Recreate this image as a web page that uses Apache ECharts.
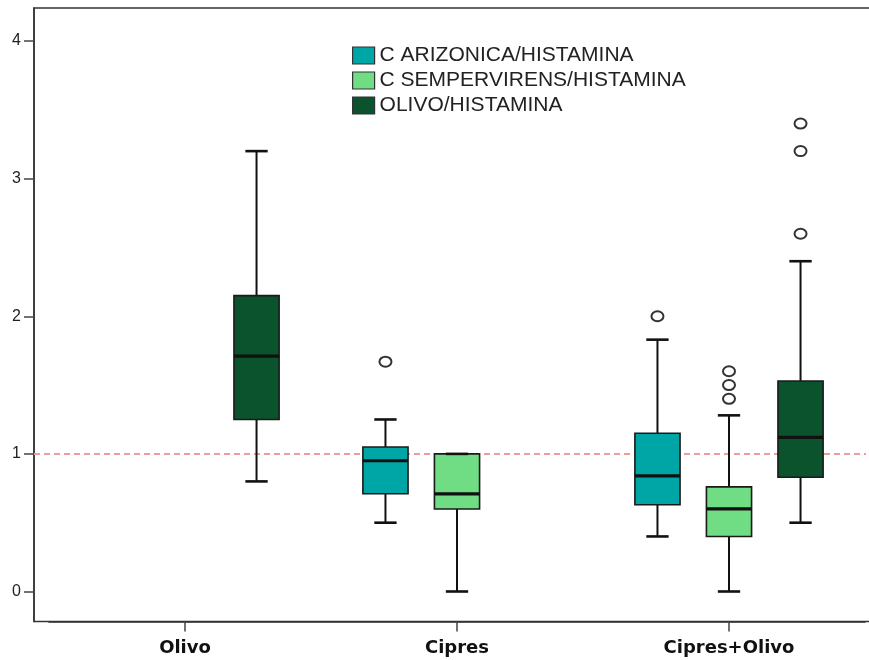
<!DOCTYPE html>
<html>
<head>
<meta charset="utf-8">
<script src="https://cdn.jsdelivr.net/npm/echarts@6/dist/echarts.min.js"></script>
<style>
html,body{margin:0;padding:0;background:#fff;}
#chart{width:869px;height:660px;}
</style>
</head>
<body>
<div id="chart"></div>
<script>
// ---- data ----
const categories = ['Olivo', 'Cipres', 'Cipres+Olivo'];
const seriesNames = ['C ARIZONICA/HISTAMINA', 'C SEMPERVIRENS/HISTAMINA', 'OLIVO/HISTAMINA'];
// [min, Q1, median, Q3, max] per category (null = no box)
const arizonicaBoxes = [null, [0.50, 0.71, 0.95, 1.05, 1.25], [0.40, 0.63, 0.84, 1.15, 1.83]];
const sempervirensBoxes = [null, [0.00, 0.60, 0.71, 1.00, 1.00], [0.00, 0.40, 0.60, 0.76, 1.28]];
const olivoBoxes = [[0.80, 1.25, 1.71, 2.15, 3.20], null, [0.50, 0.83, 1.12, 1.53, 2.40]];
// outliers: [category index, value]
const arizonicaOutliers = [[1, 1.67], [2, 2.00]];
const sempervirensOutliers = [[2, 1.60], [2, 1.50], [2, 1.40]];
const olivoOutliers = [[2, 3.40], [2, 3.20], [2, 2.60]];
const yTicks = [0, 1, 2, 3, 4];
const referenceValue = 1;

const colors = ['#00a5a5', '#70dc83', '#0b532d'];
const SLOT = 0.263;      // slot spacing as fraction of category band
const BOX_HALF = 0.083;  // half box width as fraction of band
const CAP_HALF = 0.041;  // half whisker cap width

function boxData(arr) {
  const out = [];
  arr.forEach((b, i) => { if (b) out.push([i].concat(b)); });
  return out;
}

function boxRenderer(slot, color) {
  return function (params, api) {
    const c = api.value(0);
    const band = api.size([1, 0])[0];
    const cx = api.coord([c, 0])[0] + (slot - 1) * band * SLOT;
    const y = v => api.coord([c, v])[1];
    const yMin = y(api.value(1)), yQ1 = y(api.value(2)), yMed = y(api.value(3)),
          yQ3 = y(api.value(4)), yMax = y(api.value(5));
    const hw = band * BOX_HALF, cw = band * CAP_HALF;
    const line = (x1, y1, x2, y2, w) => ({
      type: 'line', shape: { x1, y1, x2, y2 },
      style: { stroke: '#111', lineWidth: w }
    });
    return {
      type: 'group',
      children: [
        line(cx, yMax, cx, yQ3, 2),
        line(cx, yQ1, cx, yMin, 2),
        {
          type: 'rect',
          shape: { x: cx - hw, y: yQ3, width: 2 * hw, height: yQ1 - yQ3 },
          style: { fill: color, stroke: '#1a1a1a', lineWidth: 1.6 }
        },
        line(cx - hw, yMed, cx + hw, yMed, 3.2),
        line(cx - cw, yMax, cx + cw, yMax, 2.6),
        line(cx - cw, yMin, cx + cw, yMin, 2.6)
      ]
    };
  };
}

function outlierRenderer(slot) {
  return function (params, api) {
    const c = api.value(0);
    const band = api.size([1, 0])[0];
    const p = api.coord([c, api.value(1)]);
    return {
      type: 'ellipse',
      shape: { cx: p[0] + (slot - 1) * band * SLOT, cy: p[1], rx: 6, ry: 5 },
      style: { fill: '#fff', stroke: '#333', lineWidth: 2 }
    };
  };
}

const boxSets = [arizonicaBoxes, sempervirensBoxes, olivoBoxes];
const outlierSets = [arizonicaOutliers, sempervirensOutliers, olivoOutliers];

const series = [];
boxSets.forEach((set, i) => {
  series.push({
    name: seriesNames[i],
    type: 'custom',
    renderItem: boxRenderer(i, colors[i]),
    itemStyle: { color: colors[i] },
    encode: { x: 0, y: [1, 2, 3, 4, 5] },
    data: boxData(set),
    z: 3
  });
});
outlierSets.forEach((set, i) => {
  series.push({
    name: seriesNames[i] + ' outliers',
    type: 'custom',
    renderItem: outlierRenderer(i),
    itemStyle: { color: colors[i] },
    encode: { x: 0, y: 1 },
    data: set,
    z: 4
  });
});
// reference line
series[0].markLine = {
  silent: true,
  symbol: 'none',
  label: { show: false },
  lineStyle: { color: '#f29a9a', type: [6, 4], width: 2 },
  data: [[{ yAxis: referenceValue, x: 34 }, { yAxis: referenceValue, x: 866 }]],
  z: 2
};

const chart = echarts.init(document.getElementById('chart'));
chart.setOption({
  backgroundColor: '#fff',
  animation: false,
  grid: { left: 49, right: 4, top: 8, bottom: 38.5 },
  legend: {
    data: seriesNames,
    orient: 'vertical',
    left: 352,
    top: 45,
    padding: 0,
    icon: 'rect',
    itemWidth: 22,
    itemHeight: 17,
    itemGap: 4,
    itemStyle: { borderColor: '#333', borderWidth: 1.2 },
    textStyle: { fontFamily: 'Liberation Sans', fontSize: 21, color: '#222', padding: [0, 0, 0, 0] },
    selectedMode: false
  },
  xAxis: {
    type: 'category',
    data: categories,
    axisLine: { show: true, onZero: false, lineStyle: { color: '#333', width: 1.5 } },
    axisTick: { show: true, alignWithLabel: true, length: 10, lineStyle: { color: '#444', width: 1.5 } },
    axisLabel: { fontFamily: 'DejaVu Sans', fontWeight: 'bold', fontSize: 18, color: '#111', margin: 18 },
    splitLine: { show: false }
  },
  yAxis: {
    type: 'value',
    min: -0.218,
    max: 4.24,
    offset: 15,
    axisLine: { show: true, lineStyle: { color: '#333', width: 1.5 } },
    axisTick: { show: true, length: 10, customValues: yTicks, lineStyle: { color: '#444', width: 1.5 } },
    axisLabel: { customValues: yTicks, fontFamily: 'Liberation Sans', fontSize: 16, color: '#222', margin: 13 },
    splitLine: { show: false }
  },
  graphic: [{
    type: 'rect',
    silent: true,
    z: 0,
    shape: { x: 34, y: 8, width: 860, height: 613.5 },
    style: { fill: 'none', stroke: '#333', lineWidth: 1.5 }
  }],
  series: series
});
</script>
</body>
</html>
